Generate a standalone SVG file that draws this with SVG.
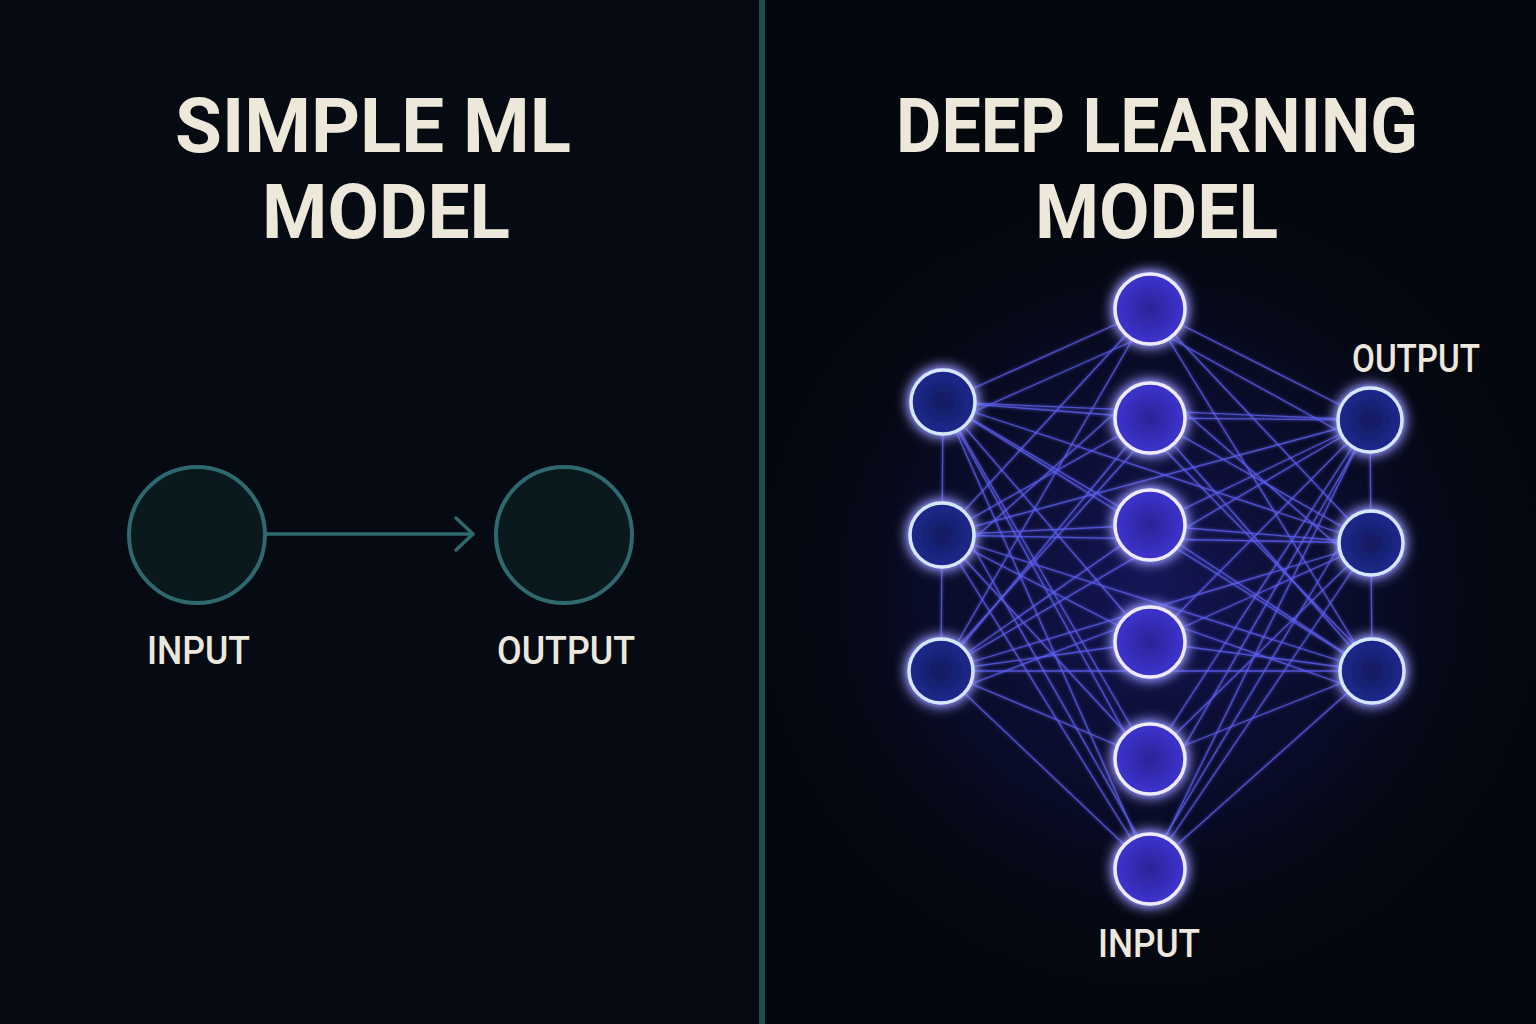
<svg xmlns="http://www.w3.org/2000/svg" width="1536" height="1024" viewBox="0 0 1536 1024">
<defs>
<style>
.title{font-family:Roboto,"Liberation Sans",sans-serif;font-weight:700;font-size:76px;fill:#eee8da}
.lbl{font-family:Roboto,"Liberation Sans",sans-serif;font-weight:500;font-size:38px;fill:#ece8de}
.simple{fill:#0a191d;stroke:#2f6970;stroke-width:4}
.edge{stroke:#5f61f4;stroke-width:1.3;stroke-opacity:0.75;fill:none}
.cn{fill:url(#cfill);stroke:#efeaff;stroke-width:3.5;filter:url(#glow)}
.sn{fill:url(#sfill);stroke:#d6e6ff;stroke-width:3.5;filter:url(#glow)}
</style>
<radialGradient id="bgglow" cx="1150" cy="590" r="400" gradientUnits="userSpaceOnUse">
<stop offset="0" stop-color="#1c1c78" stop-opacity="0.7"/>
<stop offset="0.6" stop-color="#10124e" stop-opacity="0.35"/>
<stop offset="1" stop-color="#05070f" stop-opacity="0"/>
</radialGradient>
<radialGradient id="cfill" cx="0.5" cy="0.5" r="0.5">
<stop offset="0" stop-color="#2a2496"/>
<stop offset="1" stop-color="#3d33d0"/>
</radialGradient>
<radialGradient id="sfill" cx="0.5" cy="0.5" r="0.5">
<stop offset="0" stop-color="#111a5c"/>
<stop offset="1" stop-color="#1e2a90"/>
</radialGradient>
<filter id="glow" x="-60%" y="-60%" width="220%" height="220%">
<feGaussianBlur in="SourceGraphic" stdDeviation="7" result="b"/>
<feColorMatrix in="b" type="matrix" values="0 0 0 0 0.3  0 0 0 0 0.3  0 0 0 0 1  0 0 0 1.6 0" result="c"/>
<feMerge><feMergeNode in="c"/><feMergeNode in="SourceGraphic"/></feMerge>
</filter>
<filter id="lglow" x="-10%" y="-10%" width="120%" height="120%">
<feGaussianBlur in="SourceGraphic" stdDeviation="1.5" result="b"/>
<feMerge><feMergeNode in="b"/><feMergeNode in="SourceGraphic"/></feMerge>
</filter>
</defs>

<rect x="0" y="0" width="1536" height="1024" fill="#05080f"/>
<rect x="0" y="0" width="762" height="1024" fill="#060a12"/>
<rect x="765" y="0" width="771" height="1024" fill="#04070e"/>
<rect x="765" y="0" width="771" height="1024" fill="url(#bgglow)"/>
<rect id="divider" x="759" y="0" width="6" height="1024" fill="#1f4b4d"/>

<text class="title" x="175" y="152" textLength="396" lengthAdjust="spacingAndGlyphs">SIMPLE ML</text>
<text class="title" x="262" y="238" textLength="248" lengthAdjust="spacingAndGlyphs">MODEL</text>
<text class="title" x="896" y="152" textLength="522" lengthAdjust="spacingAndGlyphs">DEEP LEARNING</text>
<text class="title" x="1035" y="238" textLength="243" lengthAdjust="spacingAndGlyphs">MODEL</text>

<g id="connectors">
<g id="simple-arrow" stroke="#2f6970" stroke-width="3.5" fill="none" stroke-linecap="round" stroke-linejoin="round">
<line x1="266" y1="534" x2="473" y2="534"/>
<polyline points="456,518 473,534 456,550"/>
</g>
<g id="deep-edges" class="edge" filter="url(#lglow)">
<line x1="943" y1="402" x2="1150" y2="309"/>
<line x1="943" y1="402" x2="1150" y2="418"/>
<line x1="943" y1="402" x2="1150" y2="525"/>
<line x1="943" y1="402" x2="1150" y2="642"/>
<line x1="943" y1="402" x2="1150" y2="759"/>
<line x1="943" y1="402" x2="1150" y2="869"/>
<line x1="942" y1="535" x2="1150" y2="309"/>
<line x1="942" y1="535" x2="1150" y2="418"/>
<line x1="942" y1="535" x2="1150" y2="525"/>
<line x1="942" y1="535" x2="1150" y2="642"/>
<line x1="942" y1="535" x2="1150" y2="759"/>
<line x1="942" y1="535" x2="1150" y2="869"/>
<line x1="941" y1="671" x2="1150" y2="309"/>
<line x1="941" y1="671" x2="1150" y2="418"/>
<line x1="941" y1="671" x2="1150" y2="525"/>
<line x1="941" y1="671" x2="1150" y2="642"/>
<line x1="941" y1="671" x2="1150" y2="759"/>
<line x1="941" y1="671" x2="1150" y2="869"/>
<line x1="1370" y1="420" x2="1150" y2="309"/>
<line x1="1370" y1="420" x2="1150" y2="418"/>
<line x1="1370" y1="420" x2="1150" y2="525"/>
<line x1="1370" y1="420" x2="1150" y2="642"/>
<line x1="1370" y1="420" x2="1150" y2="759"/>
<line x1="1370" y1="420" x2="1150" y2="869"/>
<line x1="1371" y1="543" x2="1150" y2="309"/>
<line x1="1371" y1="543" x2="1150" y2="418"/>
<line x1="1371" y1="543" x2="1150" y2="525"/>
<line x1="1371" y1="543" x2="1150" y2="642"/>
<line x1="1371" y1="543" x2="1150" y2="759"/>
<line x1="1371" y1="543" x2="1150" y2="869"/>
<line x1="1372" y1="671" x2="1150" y2="309"/>
<line x1="1372" y1="671" x2="1150" y2="418"/>
<line x1="1372" y1="671" x2="1150" y2="525"/>
<line x1="1372" y1="671" x2="1150" y2="642"/>
<line x1="1372" y1="671" x2="1150" y2="759"/>
<line x1="1372" y1="671" x2="1150" y2="869"/>
<line x1="943" y1="402" x2="1370" y2="420"/>
<line x1="943" y1="402" x2="1371" y2="543"/>
<line x1="943" y1="402" x2="1372" y2="671"/>
<line x1="942" y1="535" x2="1370" y2="420"/>
<line x1="942" y1="535" x2="1371" y2="543"/>
<line x1="942" y1="535" x2="1372" y2="671"/>
<line x1="941" y1="671" x2="1370" y2="420"/>
<line x1="941" y1="671" x2="1371" y2="543"/>
<line x1="941" y1="671" x2="1372" y2="671"/>
<line x1="943" y1="402" x2="941" y2="671"/>
<line x1="1370" y1="420" x2="1372" y2="671"/>
<line x1="955" y1="420" x2="1135" y2="340"/>
<line x1="955" y1="425" x2="1140" y2="760"/>
<line x1="950" y1="560" x2="1135" y2="395"/>
<line x1="955" y1="515" x2="1140" y2="840"/>
<line x1="955" y1="650" x2="1135" y2="450"/>
<line x1="955" y1="690" x2="1140" y2="620"/>
<line x1="1355" y1="440" x2="1165" y2="335"/>
<line x1="1358" y1="445" x2="1165" y2="780"/>
<line x1="1360" y1="565" x2="1165" y2="395"/>
<line x1="1355" y1="520" x2="1160" y2="845"/>
<line x1="1360" y1="650" x2="1165" y2="450"/>
<line x1="1360" y1="690" x2="1160" y2="620"/>
</g>
</g>

<g id="simple-input"><circle class="simple" cx="197" cy="535" r="68"/></g>
<g id="simple-output"><circle class="simple" cx="564" cy="535" r="68"/></g>
<text class="lbl" x="147" y="664" textLength="103" lengthAdjust="spacingAndGlyphs">INPUT</text>
<text class="lbl" x="497" y="664" textLength="138" lengthAdjust="spacingAndGlyphs">OUTPUT</text>

<g id="L1"><circle class="sn" cx="943" cy="402" r="32"/></g>
<g id="L2"><circle class="sn" cx="942" cy="535" r="32"/></g>
<g id="L3"><circle class="sn" cx="941" cy="671" r="32"/></g>
<g id="C1"><circle class="cn" cx="1150" cy="309" r="35"/></g>
<g id="C2"><circle class="cn" cx="1150" cy="418" r="35"/></g>
<g id="C3"><circle class="cn" cx="1150" cy="525" r="35"/></g>
<g id="C4"><circle class="cn" cx="1150" cy="642" r="35"/></g>
<g id="C5"><circle class="cn" cx="1150" cy="759" r="35"/></g>
<g id="C6"><circle class="cn" cx="1150" cy="869" r="35"/></g>
<g id="R1"><circle class="sn" cx="1370" cy="420" r="32"/></g>
<g id="R2"><circle class="sn" cx="1371" cy="543" r="32"/></g>
<g id="R3"><circle class="sn" cx="1372" cy="671" r="32"/></g>

<text class="lbl" x="1352" y="372" textLength="128" lengthAdjust="spacingAndGlyphs">OUTPUT</text>
<text class="lbl" x="1098" y="957" textLength="102" lengthAdjust="spacingAndGlyphs">INPUT</text>
</svg>
